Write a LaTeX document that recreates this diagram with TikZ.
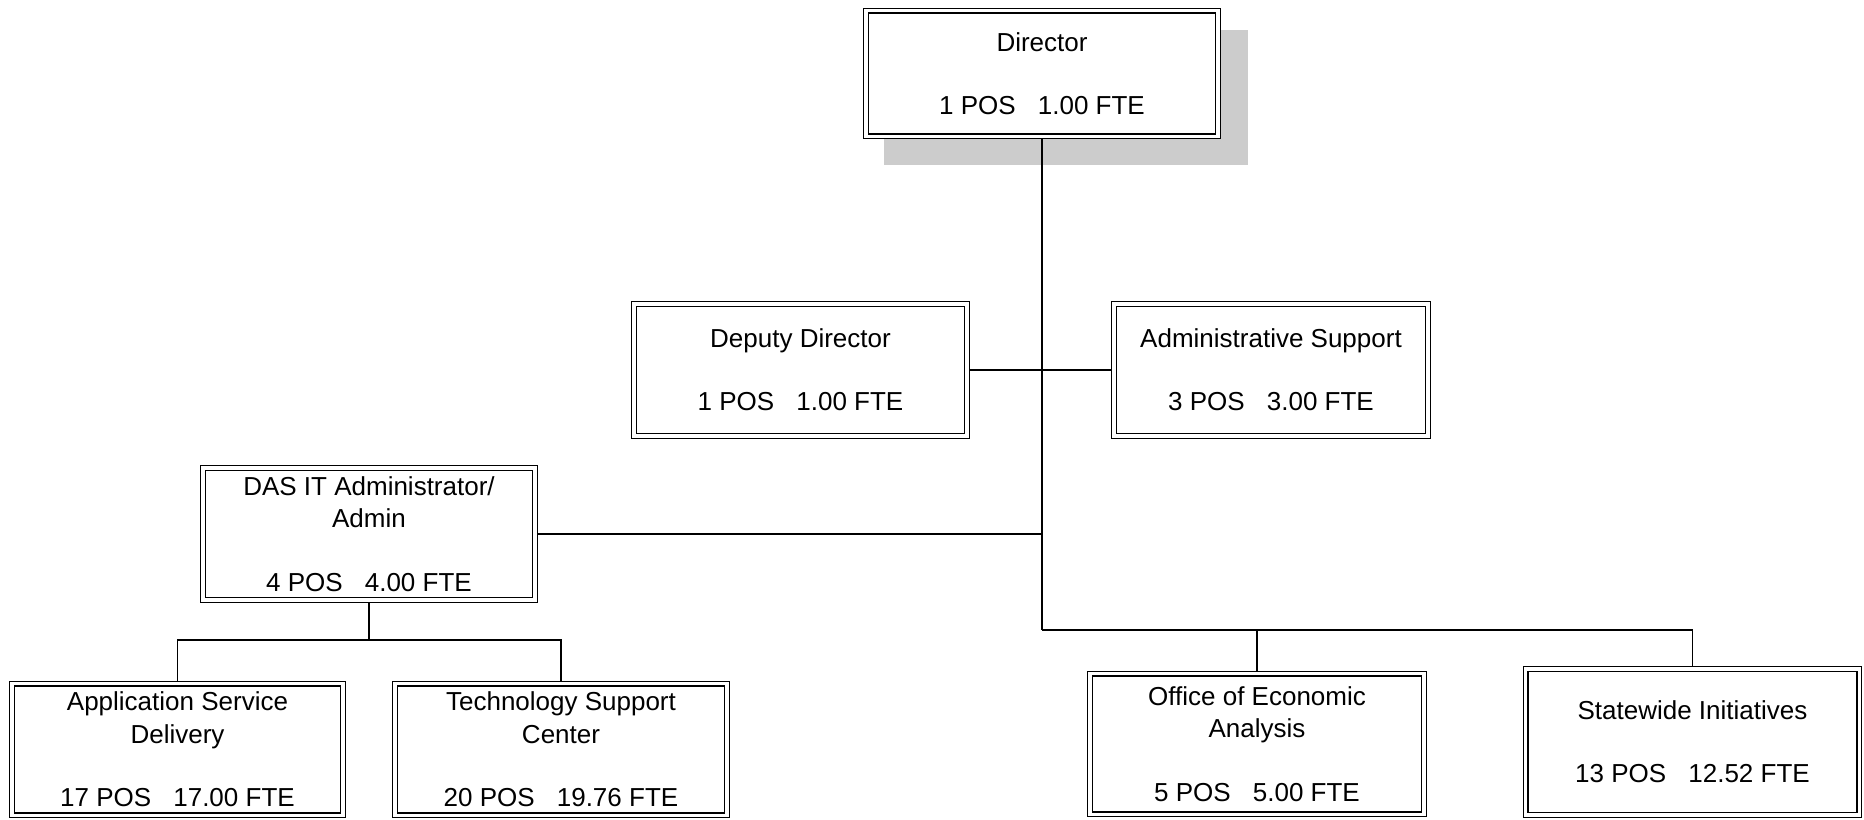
\documentclass[tikz,border=0pt]{standalone}
\usepackage{fontspec}
\setmainfont{Liberation Sans}
\usetikzlibrary{positioning}
\definecolor{shadowgray}{RGB}{204,204,204}
\tikzset{
  orgbox/.style 2 args={draw=black, line width=1pt, double=white, double distance=2.6pt,
    fill=white, inner sep=0pt, outer sep=2.3pt, align=center,
    font=\fontsize{19.5}{24.5}\selectfont,
    minimum width={(#1-6.2)*0.75pt}, minimum height={(#2-6.2)*0.75pt}},
  conn/.style={draw=black, line width=1.05pt},
}
\newcommand{\pf}[2]{#1 POS\hspace{0.85em}#2 FTE}
\begin{document}
\begin{tikzpicture}[x=0.75pt,y=-0.75pt]
\useasboundingbox (0,0) rectangle (1864,819);
% shadow of director
\fill[shadowgray] (884,30) rectangle (1248,165);
\node[orgbox={358}{132}] (dir) at (1042,73.5) {Director\\[23pt]\pf{1}{1.00}};
\node[orgbox={339}{138}] (dep) at (800.5,370) {Deputy Director\\[23pt]\pf{1}{1.00}};
\node[orgbox={320}{138}] (adm) at (1271,370) {Administrative Support\\[23pt]\pf{3}{3.00}};
\node[orgbox={338}{138}] (das) at (369,534) {DAS IT Administrator/\\Admin\\[23pt]\pf{4}{4.00}};
\node[orgbox={337}{138}] (asd) at (177.5,749.5) {Application Service\\Delivery\\[23pt]\pf{17}{17.00}};
\node[orgbox={338}{138}] (tsc) at (561,749.5) {Technology Support\\Center\\[23pt]\pf{20}{19.76}};
\node[orgbox={340}{147}] (oea) at (1257,744) {Office of Economic\\Analysis\\[23pt]\pf{5}{5.00}};
\node[orgbox={340}{152}] (swi) at (1692.5,742) {Statewide Initiatives\\[23pt]\pf{13}{12.52}};
% connectors
\coordinate (ylow) at (0,630);
\coordinate (ysub) at (0,640);
\coordinate (jb) at (dir.south |- ylow);
\coordinate (jm) at (dir.south |- das.east);
\coordinate (ja) at (das.south |- ysub);
\draw[conn] (dir.south) -- (jb);
\draw[conn] (jb) -| (oea.north);
\draw[conn] (jb) -| (swi.north);
\draw[conn] (dep.east) -- (adm.west);
\draw[conn] (das.east) -- (jm);
\draw[conn] (das.south) -- (ja);
\draw[conn] (ja) -| (asd.north);
\draw[conn] (ja) -| (tsc.north);
\end{tikzpicture}
\end{document}
